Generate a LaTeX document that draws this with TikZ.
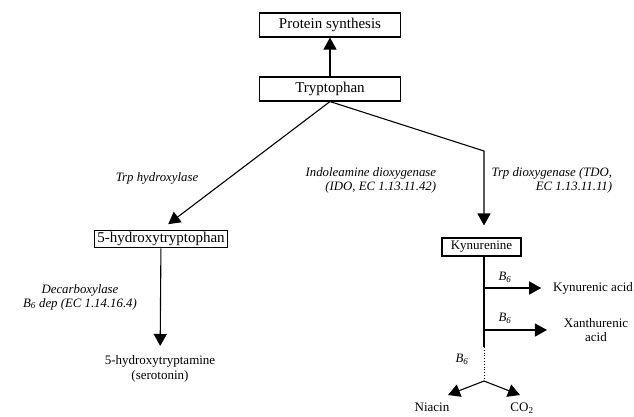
\documentclass[tikz,border=0pt]{standalone}
\usepackage{fontspec}
\setmainfont{Liberation Serif}
\usetikzlibrary{arrows.meta}
\tikzset{
  bigbox/.style={draw,minimum width=141pt,minimum height=24pt,font=\fontsize{15}{17}\selectfont},
  htpbox/.style={draw,inner xsep=2.5pt,inner ysep=2pt,font=\fontsize{15}{17}\selectfont},
  kynbox/.style={draw,minimum width=79pt,minimum height=18pt,inner sep=1pt,font=\fontsize{13}{15}\selectfont},
  chem/.style={align=center,font=\fontsize{13}{14.5}\selectfont},
  enz/.style={font=\fontsize{12.8}{14}\selectfont\itshape},
}
\begin{document}
\begin{tikzpicture}[x=1pt,y=-1pt,>={Triangle[length=12pt,width=13pt]},line width=1.1pt]
\useasboundingbox (0,0) rectangle (634,416);
% boxes
\node[bigbox] (ptn) at (330,25) {Protein synthesis};
\node[bigbox] (trp) at (330,89) {Tryptophan};
\node[htpbox] (htp) at (161,239) {5-hydroxytryptophan};
\node[kynbox] (kyn) at (481.5,247) {Kynurenine};
% products
\node[chem] (serot) at (160,369) {5-hydroxytryptamine\\(serotonin)};
\node[chem] (kyna) at (593,288) {Kynurenic acid};
\node[chem] (xa) at (596,330) {Xanthurenic\\acid};
\node[chem,anchor=north,inner sep=0pt] (nia) at (432,402) {Niacin};
\node[chem,anchor=north,inner sep=0pt] (co2) at (522,402) {CO\textsubscript{2}};
% enzymes
\node[enz] (hydrox) at (157,178) {Trp hydroxylase};
\node[enz,align=right,anchor=east] (ido) at (440,180) {Indoleamine dioxygenase\\(IDO, EC 1.13.11.42)};
\node[enz,align=right,anchor=east] (tdo) at (616,180) {Trp dioxygenase (TDO,\\EC 1.13.11.11)};
\node[enz,align=center] (decarb) at (80,297) {Decarboxylase\\B\textsubscript{6} dep (EC 1.14.16.4)};
\node[enz] (bsix1) at (505,277) {B\textsubscript{6}};
\node[enz] (bsix2) at (505,318) {B\textsubscript{6}};
\node[enz] (bsix3) at (462,359) {B\textsubscript{6}};
% branch points
\coordinate (bend) at (484,151);
\coordinate (br1) at (484,288);
\coordinate (br2) at (484,330);
\coordinate (dots) at (484,347);
\coordinate (fork) at (484,381);
\coordinate (niatip) at (448,395);
\coordinate (cotip) at (520,395);
% arrows
\draw[->] (trp) -- (ptn);
\draw[->,shorten >=9pt] (trp.south) -- (htp.north);
\draw[->,shorten >=12pt] (trp.south) -- (bend) -- (bend |- kyn.north);
\draw[->,shorten >=6pt] (htp) -- (serot);
\draw (bend |- kyn.south) -- (dots);
\draw[dotted,line width=0.8pt] (dots) -- (fork);
\draw[->,shorten >=8pt] (br1) -- (kyna);
\draw[->,shorten >=13pt] (br2) -- (xa);
\draw[->] (fork) -- (niatip);
\draw[->] (fork) -- (cotip);
\end{tikzpicture}
\end{document}
